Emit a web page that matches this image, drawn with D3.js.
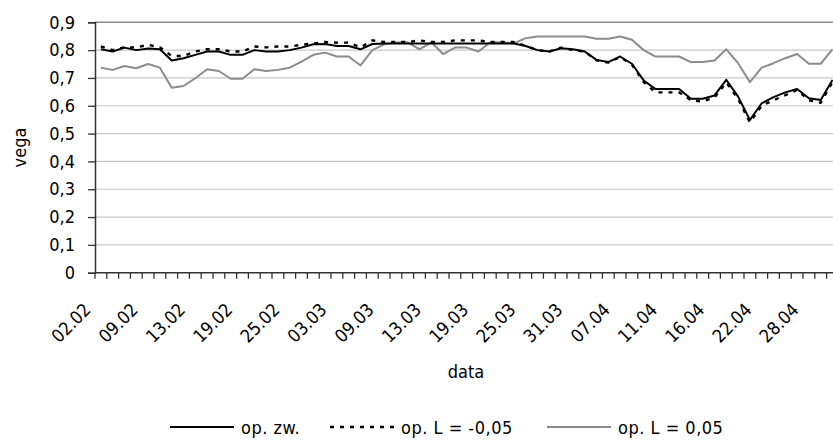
<!DOCTYPE html>
<html>
<head>
<meta charset="utf-8">
<script src="https://cdn.jsdelivr.net/npm/d3@7"></script>
<style>
  body { margin: 0; background: #fff; }
  svg text { font-family: "DejaVu Sans Condensed", "Liberation Sans", sans-serif; fill: #000; font-size: 18px; }
</style>
</head>
<body>
<div id="graph"></div>
<script>
// trading days (only every 4th one is labelled on the axis)
var dates = [
  "02.02", "03.02", "04.02", "05.02", "09.02", "10.02", "11.02", "12.02",
  "13.02", "16.02", "17.02", "18.02", "19.02", "20.02", "23.02", "24.02",
  "25.02", "26.02", "27.02", "02.03", "03.03", "04.03", "05.03", "06.03",
  "09.03", "10.03", "11.03", "12.03", "13.03", "16.03", "17.03", "18.03",
  "19.03", "20.03", "23.03", "24.03", "25.03", "26.03", "27.03", "30.03",
  "31.03", "01.04", "02.04", "03.04", "07.04", "08.04", "09.04", "10.04",
  "11.04", "13.04", "14.04", "15.04", "16.04", "17.04", "20.04", "21.04",
  "22.04", "23.04", "24.04", "27.04", "28.04", "29.04", "30.04"
];

// op. zw.
var opZw = [
  0.803, 0.795, 0.809, 0.800, 0.806, 0.803, 0.763, 0.771, 0.783, 0.795,
  0.795, 0.783, 0.783, 0.800, 0.795, 0.795, 0.800, 0.809, 0.821, 0.822,
  0.815, 0.815, 0.803, 0.822, 0.824, 0.824, 0.824, 0.824, 0.824, 0.824,
  0.824, 0.824, 0.824, 0.824, 0.824, 0.824, 0.815, 0.800, 0.795, 0.807,
  0.803, 0.795, 0.765, 0.757, 0.777, 0.751, 0.691, 0.660, 0.660, 0.660,
  0.625, 0.625, 0.637, 0.693, 0.633, 0.549, 0.609, 0.631, 0.648, 0.660,
  0.627, 0.621, 0.693
];

// op. L = -0,05
var opLminus = [
  0.813, 0.800, 0.810, 0.810, 0.819, 0.810, 0.779, 0.779, 0.795, 0.803,
  0.803, 0.795, 0.795, 0.813, 0.810, 0.813, 0.813, 0.819, 0.824, 0.829,
  0.827, 0.827, 0.810, 0.835, 0.829, 0.829, 0.829, 0.835, 0.829, 0.829,
  0.835, 0.835, 0.835, 0.829, 0.829, 0.829, 0.815, 0.800, 0.795, 0.809,
  0.800, 0.795, 0.763, 0.755, 0.775, 0.748, 0.685, 0.648, 0.648, 0.648,
  0.620, 0.615, 0.630, 0.684, 0.625, 0.540, 0.600, 0.620, 0.638, 0.657,
  0.620, 0.611, 0.685
];

// op. L = 0,05
var opLplus = [
  0.737, 0.729, 0.743, 0.735, 0.750, 0.737, 0.665, 0.671, 0.699, 0.731,
  0.725, 0.697, 0.697, 0.731, 0.725, 0.729, 0.737, 0.759, 0.783, 0.791,
  0.777, 0.777, 0.745, 0.800, 0.821, 0.827, 0.828, 0.803, 0.828, 0.786,
  0.809, 0.809, 0.795, 0.828, 0.828, 0.824, 0.843, 0.849, 0.849, 0.849,
  0.849, 0.849, 0.841, 0.841, 0.849, 0.837, 0.800, 0.777, 0.777, 0.777,
  0.757, 0.757, 0.763, 0.803, 0.753, 0.685, 0.737, 0.753, 0.771, 0.786,
  0.751, 0.751, 0.803
];

var yTicks = [0, 0.1, 0.2, 0.3, 0.4, 0.5, 0.6, 0.7, 0.8, 0.9];

var series = [
  { name: "op. zw.", values: opZw, color: "#000", width: 2, dash: null },
  { name: "op. L = -0,05", values: opLminus, color: "#000", width: 2.4, dash: "4,6" },
  { name: "op. L = 0,05", values: opLplus, color: "#8c8c8c", width: 2, dash: null }
];

var W = 833, H = 446;
var plotLeft = 95, plotTop = 22.3, plotBottom = 272.7;
var step = 11.8;

var svg = d3.select("#graph").append("svg")
  .attr("width", W)
  .attr("height", H);

// Scales
var x = d3.scaleBand()
  .domain(d3.range(dates.length))
  .range([plotLeft, plotLeft + step * dates.length])
  .paddingInner(0).paddingOuter(0);
var y = d3.scaleLinear().domain([0, 0.9]).range([plotBottom, plotTop]);
var cx = function (i) { return x(i) + x.bandwidth() / 2; };

var fmt = function (v) { return v === 0 ? "0" : d3.format(".1f")(v).replace(".", ","); };

// Gridlines
svg.append("g")
  .selectAll("line")
  .data(yTicks.filter(function (d) { return d > 0; }))
  .enter().append("line")
  .attr("x1", plotLeft).attr("x2", W)
  .attr("y1", function (d) { return y(d); })
  .attr("y2", function (d) { return y(d); })
  .attr("stroke", function (d) { return d === 0.9 ? "#8a8a8a" : "#c8c8c8"; })
  .attr("stroke-width", function (d) { return d === 0.9 ? 1.5 : 1.2; });

// Y axis
var yAxis = svg.append("g")
  .attr("transform", "translate(" + plotLeft + ",0)")
  .call(d3.axisLeft(y).tickValues(yTicks).tickSize(7).tickPadding(13).tickFormat(fmt));
yAxis.select(".domain").attr("stroke", "#333").attr("stroke-width", 1.5);
yAxis.selectAll(".tick line").attr("stroke", "#333").attr("stroke-width", 1.3);
yAxis.selectAll("text").attr("font-family", null).attr("font-size", null);

// X axis (ticks between categories)
var xg = svg.append("g");
xg.append("line")
  .attr("x1", plotLeft).attr("x2", W)
  .attr("y1", plotBottom).attr("y2", plotBottom)
  .attr("stroke", "#333").attr("stroke-width", 1.5);
xg.selectAll(".xt")
  .data(d3.range(dates.length + 1))
  .enter().append("line")
  .attr("class", "xt")
  .attr("x1", function (i) { return plotLeft + i * x.bandwidth(); })
  .attr("x2", function (i) { return plotLeft + i * x.bandwidth(); })
  .attr("y1", plotBottom).attr("y2", plotBottom + 6)
  .attr("stroke", "#333").attr("stroke-width", 1.3);
xg.selectAll(".xl")
  .data(d3.range(0, dates.length, 4))
  .enter().append("text")
  .attr("class", "xl")
  .attr("transform", function (i) { return "translate(" + (cx(i) - 9) + "," + 311 + ") rotate(-45)"; })
  .attr("text-anchor", "end")
  .text(function (i) { return dates[i]; });

// Axis titles
svg.append("text")
  .attr("transform", "translate(26," + ((plotTop + plotBottom) / 2) + ") rotate(-90)")
  .attr("text-anchor", "middle")
  .text("vega");
svg.append("text")
  .attr("x", 466).attr("y", 378)
  .attr("text-anchor", "middle")
  .text("data");

// Lines
var line = d3.line()
  .x(function (d, i) { return cx(i); })
  .y(function (d) { return y(d); });

svg.selectAll(".series")
  .data(series.slice().reverse())
  .enter().append("path")
  .attr("class", "series")
  .attr("d", function (s) { return line(s.values); })
  .attr("fill", "none")
  .attr("stroke", function (s) { return s.color; })
  .attr("stroke-width", function (s) { return s.width; })
  .attr("stroke-dasharray", function (s) { return s.dash; })
  .attr("stroke-linejoin", "round");

// Legend
var legendX = [170, 330, 547];
var lg = svg.append("g");
series.forEach(function (s, k) {
  var g = lg.append("g").attr("transform", "translate(" + legendX[k] + ",427)");
  g.append("line")
    .attr("x1", 0).attr("x2", 64)
    .attr("stroke", s.color)
    .attr("stroke-width", s.width)
    .attr("stroke-dasharray", s.dash);
  g.append("text")
    .attr("x", 71).attr("y", 7)
    .style("letter-spacing", "0.5px")
    .text(s.name);
});
</script>
</body>
</html>
